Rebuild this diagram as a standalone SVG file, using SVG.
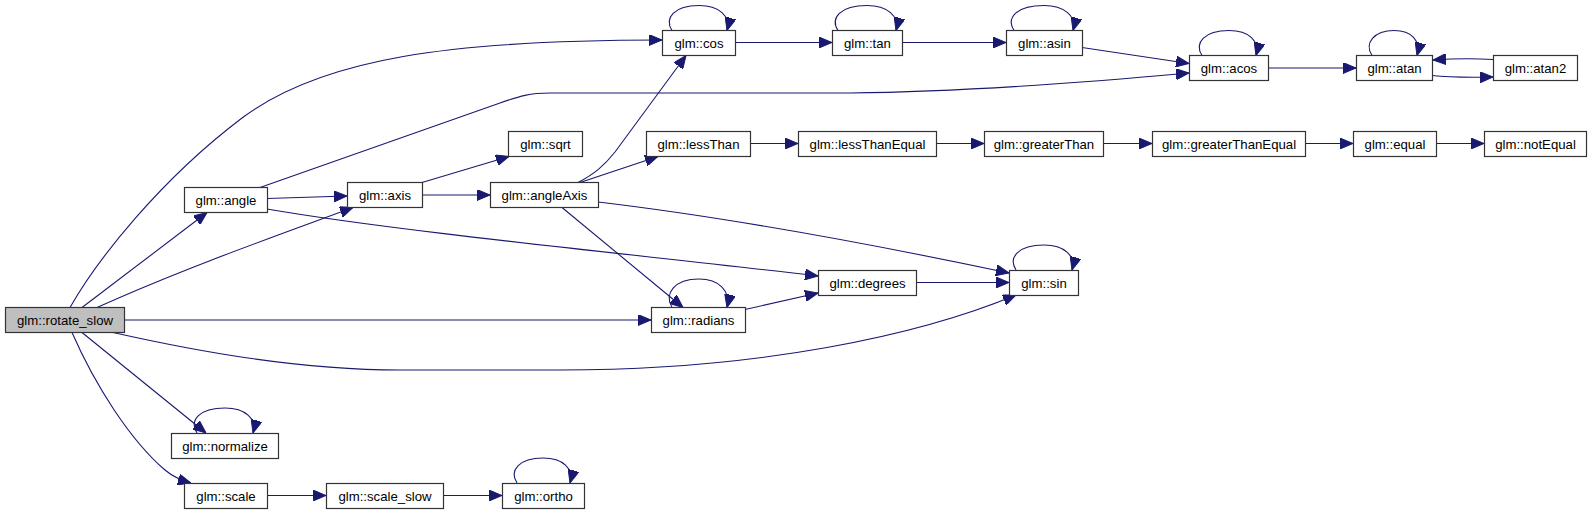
<svg xmlns="http://www.w3.org/2000/svg" width="1592" height="515" viewBox="0 0 1592 515">
<style>
.n rect{fill:#ffffff;stroke:#333333;stroke-width:1.2}
.n.cur rect{fill:#bfbfbf}
.n text{font-family:"Liberation Sans",Arial,Helvetica,sans-serif;font-size:13.2px;fill:#000000;text-anchor:middle}
#edges path{fill:none;stroke:#191970;stroke-width:1.1;marker-end:url(#ah)}
</style>
<defs>
<marker id="ah" viewBox="0 0 13 11" refX="13" refY="5.5" markerWidth="13" markerHeight="11" markerUnits="userSpaceOnUse" orient="auto">
<path d="M0,0 L13,5.5 L0,11 z" fill="#191970" stroke="#191970" stroke-width="1"/>
</marker>
</defs>
<rect x="0" y="0" width="1592" height="515" fill="#ffffff"/>
<g id="edges">
<!-- rotate_slow -> cos -->
<path d="M70,307.5 C97,260 160,180 242,118 C322,58 452,40 662,40"/>
<!-- angle -> acos -->
<path d="M260,187.5 L500,103 C520,96 530,93 550,93 L850,93 C950,92 1080,83 1189,73"/>
<!-- rotate_slow -> angle -->
<path d="M82,307.5 L207,212.5"/>
<!-- rotate_slow -> axis -->
<path d="M97,307.5 C180,270 270,238 353,207.5"/>
<!-- rotate_slow -> radians -->
<path d="M124,320 L651,320"/>
<!-- rotate_slow -> sin -->
<path d="M113,332.5 C200,352 300,370 400,370 L560,370 C760,370 920,335 1016,295"/>
<!-- rotate_slow -> normalize -->
<path d="M82,332.5 L206,433"/>
<!-- rotate_slow -> scale -->
<path d="M72,332.5 C95,385 130,440 165,470 C172,476 180,480 191,483"/>
<!-- angle -> axis -->
<path d="M267,198.5 L347,196"/>
<!-- angle -> degrees -->
<path d="M267,209 C400,232 650,256 818,276"/>
<!-- axis -> sqrt -->
<path d="M422,182.5 L509,156.5"/>
<!-- axis -> angleAxis -->
<path d="M422,195 L490,195"/>
<!-- angleAxis -> cos -->
<path d="M578,182.5 C594,174 604,166 615,152 L686,55.5"/>
<!-- angleAxis -> lessThan -->
<path d="M580,182.5 L658,156.5"/>
<!-- angleAxis -> sin -->
<path d="M598,202 C750,220 900,250 1009,273"/>
<!-- angleAxis -> radians -->
<path d="M562,207.5 L683,307.5"/>
<!-- radians -> degrees -->
<path d="M745,309.5 L818,293"/>
<!-- degrees -> sin -->
<path d="M916,282.5 L1009,282.5"/>
<!-- cos -> tan -->
<path d="M735,42.5 L832,42.5"/>
<!-- tan -> asin -->
<path d="M902,42.5 L1006,42.5"/>
<!-- asin -> acos -->
<path d="M1082,47.5 L1189,63.5"/>
<!-- acos -> atan -->
<path d="M1268,68 L1356,68"/>
<!-- atan -> atan2 -->
<path d="M1432,75.5 C1450,77.5 1470,77.5 1493,77"/>
<!-- atan2 -> atan -->
<path d="M1493,59.5 C1475,58.5 1455,58.5 1433,60"/>
<!-- lessThan chain -->
<path d="M750,143.5 L798,143.5"/>
<path d="M936,143.5 L984,143.5"/>
<path d="M1103,143.5 L1152,143.5"/>
<path d="M1305,143.5 L1353,143.5"/>
<path d="M1436,143.5 L1484,143.5"/>
<!-- scale -> scale_slow -> ortho -->
<path d="M267,495.5 L326,495.5"/>
<path d="M443,495.5 L502,495.5"/>
<!-- self loops -->
<path d="M672,30.5 C664,18 674,5.5 699,5.5 C719,5.5 731,16 727,30.5"/>
<path d="M838,30.5 C830,18 840,5.5 867,5.5 C887,5.5 900,16 896,30.5"/>
<path d="M1014,30.5 C1006,18 1016,5.5 1044,5.5 C1064,5.5 1077,16 1073,30.5"/>
<path d="M1202,55.5 C1194,43 1204,30.5 1229,30.5 C1249,30.5 1260,41 1256,55.5"/>
<path d="M1372,55.5 C1364,43 1374,30.5 1394,30.5 C1412,30.5 1421,41 1417,55.5"/>
<path d="M1016,270 C1008,257.5 1018,245 1044,245 C1064,245 1076,255.5 1072,270"/>
<path d="M672,307.5 C664,294 674,279 699,279 C719,279 731,291 727,307.5"/>
<path d="M197,433 C189,420.5 199,408 225,408 C245,408 257,418.5 253,433"/>
<path d="M517,483 C509,470.5 519,458 543,458 C563,458 574,468.5 570,483"/>
</g>
<g id="node-rotate_slow" class="n cur"><rect x="5.5" y="307.5" width="119" height="25"/><text x="65" y="324.5">glm::rotate_slow</text></g>
<g id="node-angle" class="n"><rect x="184.5" y="187.5" width="83" height="25"/><text x="226" y="204.5">glm::angle</text></g>
<g id="node-axis" class="n"><rect x="347.5" y="182.5" width="75" height="25"/><text x="385" y="199.5">glm::axis</text></g>
<g id="node-sqrt" class="n"><rect x="508.5" y="131.5" width="74" height="25"/><text x="545.5" y="148.5">glm::sqrt</text></g>
<g id="node-angleAxis" class="n"><rect x="490.5" y="182.5" width="108" height="25"/><text x="544.5" y="199.5">glm::angleAxis</text></g>
<g id="node-cos" class="n"><rect x="662.5" y="30.5" width="73" height="25"/><text x="699" y="47.5">glm::cos</text></g>
<g id="node-tan" class="n"><rect x="832.5" y="30.5" width="70" height="25"/><text x="867.5" y="47.5">glm::tan</text></g>
<g id="node-asin" class="n"><rect x="1006.5" y="30.5" width="76" height="25"/><text x="1044.5" y="47.5">glm::asin</text></g>
<g id="node-acos" class="n"><rect x="1189.5" y="55.5" width="79" height="25"/><text x="1229" y="72.5">glm::acos</text></g>
<g id="node-atan" class="n"><rect x="1356.5" y="55.5" width="76" height="25"/><text x="1394.5" y="72.5">glm::atan</text></g>
<g id="node-atan2" class="n"><rect x="1493.5" y="55.5" width="84" height="25"/><text x="1535.5" y="72.5">glm::atan2</text></g>
<g id="node-lessThan" class="n"><rect x="646.5" y="131.5" width="104" height="25"/><text x="698.5" y="148.5">glm::lessThan</text></g>
<g id="node-lessThanEqual" class="n"><rect x="798.5" y="131.5" width="138" height="25"/><text x="867.5" y="148.5">glm::lessThanEqual</text></g>
<g id="node-greaterThan" class="n"><rect x="984.5" y="131.5" width="119" height="25"/><text x="1044" y="148.5">glm::greaterThan</text></g>
<g id="node-greaterThanEqual" class="n"><rect x="1152.5" y="131.5" width="153" height="25"/><text x="1229" y="148.5">glm::greaterThanEqual</text></g>
<g id="node-equal" class="n"><rect x="1353.5" y="131.5" width="83" height="25"/><text x="1395" y="148.5">glm::equal</text></g>
<g id="node-notEqual" class="n"><rect x="1484.5" y="131.5" width="102" height="25"/><text x="1535.5" y="148.5">glm::notEqual</text></g>
<g id="node-degrees" class="n"><rect x="818.5" y="270.5" width="98" height="25"/><text x="867.5" y="287.5">glm::degrees</text></g>
<g id="node-sin" class="n"><rect x="1009.5" y="270.5" width="69" height="25"/><text x="1044" y="287.5">glm::sin</text></g>
<g id="node-radians" class="n"><rect x="651.5" y="307.5" width="94" height="25"/><text x="698.5" y="324.5">glm::radians</text></g>
<g id="node-normalize" class="n"><rect x="171.5" y="433.5" width="107" height="25"/><text x="225" y="450.5">glm::normalize</text></g>
<g id="node-scale" class="n"><rect x="184.5" y="483.5" width="83" height="25"/><text x="226" y="500.5">glm::scale</text></g>
<g id="node-scale_slow" class="n"><rect x="326.5" y="483.5" width="117" height="25"/><text x="385" y="500.5">glm::scale_slow</text></g>
<g id="node-ortho" class="n"><rect x="502.5" y="483.5" width="82" height="25"/><text x="543.5" y="500.5">glm::ortho</text></g>
</svg>
